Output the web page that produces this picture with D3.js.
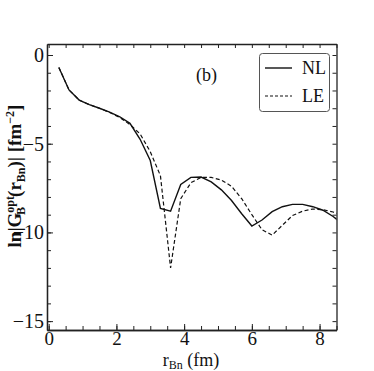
<!DOCTYPE html>
<html>
<head>
<meta charset="utf-8">
<script src="https://cdn.jsdelivr.net/npm/d3@7"></script>
<style>
  body { margin: 0; background: #fff; }
</style>
</head>
<body>
<div id="container"></div>
<script>
// r_Bn grid (fm)
var rBn = [0.3, 0.6, 0.9, 1.2, 1.5, 1.8, 2.1, 2.4, 2.7, 3.0, 3.3, 3.6, 3.9, 4.2, 4.5,
           4.8, 5.1, 5.4, 5.7, 6.0, 6.3, 6.6, 6.9, 7.2, 7.5, 7.8, 8.1, 8.4, 8.7];
var nlValues = [-0.7, -1.97, -2.54, -2.8, -3.0, -3.22, -3.48, -3.85, -4.75, -5.95, -8.65, -8.8, -7.3,
                -6.9, -6.88, -7.15, -7.6, -8.2, -8.95, -9.64, -9.3, -8.83, -8.55, -8.42, -8.42,
                -8.55, -8.75, -9.1, -9.55];
var leValues = [-0.7, -1.97, -2.54, -2.8, -3.0, -3.24, -3.52, -3.92, -4.45, -5.45, -6.8, -12.0, -8.1,
                -7.2, -6.9, -6.9, -7.05, -7.4, -8.1, -9.0, -9.85, -10.15, -9.6, -9.05, -8.8,
                -8.68, -8.72, -8.85, -9.05];
var xTicks = [0, 2, 4, 6, 8];
var yTicks = [0, -5, -10, -15];
var seriesNames = ["NL", "LE"];

var serif = "'Liberation Serif', 'DejaVu Serif', serif";
var W = 374, H = 371;
var m = {left: 47, right: 37.5, top: 44, bottom: 41};

var svg = d3.select("#container").append("svg")
  .attr("width", W).attr("height", H)
  .attr("font-family", serif);

var x = d3.scaleLinear().domain([-0.05, 8.5]).range([m.left, W - m.right]);
var y = d3.scaleLinear().domain([-15.5, 0.62]).range([H - m.bottom, m.top]);

svg.append("defs").append("clipPath").attr("id", "clip")
  .append("rect")
  .attr("x", m.left).attr("y", m.top)
  .attr("width", W - m.left - m.right).attr("height", H - m.top - m.bottom);

// axes with inward ticks on all four sides
var xMinor = d3.range(0, 8.51, 0.5);
var yMinor = d3.range(-15, 0.01, 1);

function styleAxis(g) {
  g.attr("font-family", serif);
  g.select(".domain").attr("stroke", "#222").attr("stroke-width", 1.3);
  g.selectAll(".tick line").attr("stroke", "#222").attr("stroke-width", 1);
}

svg.append("g").attr("transform", "translate(0," + (H - m.bottom) + ")")
  .call(d3.axisBottom(x).tickValues(xMinor).tickSize(-4).tickSizeOuter(0).tickFormat(""))
  .call(styleAxis);
var xb = svg.append("g").attr("transform", "translate(0," + (H - m.bottom) + ")")
  .call(d3.axisBottom(x).tickValues(xTicks).tickSize(-6).tickSizeOuter(0).tickPadding(1).tickFormat(d3.format("d")))
  .call(styleAxis);
xb.selectAll("text").attr("font-size", 19).attr("fill", "#111");

svg.append("g").attr("transform", "translate(0," + m.top + ")")
  .call(d3.axisTop(x).tickValues(xMinor).tickSize(-4).tickSizeOuter(0).tickFormat(""))
  .call(styleAxis);

svg.append("g").attr("transform", "translate(" + m.left + ",0)")
  .call(d3.axisLeft(y).tickValues(yMinor).tickSize(-4).tickSizeOuter(0).tickFormat(""))
  .call(styleAxis);
var yl = svg.append("g").attr("transform", "translate(" + m.left + ",0)")
  .call(d3.axisLeft(y).tickValues(yTicks).tickSize(-6).tickSizeOuter(0).tickPadding(3)
    .tickFormat(function(d) { return d < 0 ? "\u2212" + Math.abs(d) : d; }))
  .call(styleAxis);
yl.selectAll("text").attr("font-size", 20).attr("fill", "#111");

svg.append("g").attr("transform", "translate(" + (W - m.right) + ",0)")
  .call(d3.axisRight(y).tickValues(yMinor).tickSize(-4).tickSizeOuter(0).tickFormat(""))
  .call(styleAxis);

// curves
var line = d3.line()
  .x(function(d) { return x(d[0]); })
  .y(function(d) { return y(d[1]); });

var plot = svg.append("g").attr("clip-path", "url(#clip)");
plot.append("path")
  .datum(d3.zip(rBn, nlValues))
  .attr("fill", "none").attr("stroke", "#111").attr("stroke-width", 1.4)
  .attr("d", line);
plot.append("path")
  .datum(d3.zip(rBn, leValues))
  .attr("fill", "none").attr("stroke", "#111").attr("stroke-width", 1.2)
  .attr("stroke-dasharray", "4,2.5")
  .attr("d", line);

// panel label
svg.append("text").attr("x", 196).attr("y", 81)
  .attr("font-size", 18).attr("fill", "#111").text("(b)");

// legend
var lg = svg.append("g");
lg.append("rect").attr("x", 259.5).attr("y", 53.5).attr("width", 70).attr("height", 58)
  .attr("rx", 3).attr("fill", "#fff").attr("stroke", "#555").attr("stroke-width", 1);
seriesNames.forEach(function(name, i) {
  var yy = 68 + i * 28;
  lg.append("line").attr("x1", 265).attr("x2", 292).attr("y1", yy).attr("y2", yy)
    .attr("stroke", "#111").attr("stroke-width", i === 0 ? 1.4 : 1.2)
    .attr("stroke-dasharray", i === 0 ? null : "3,2");
  lg.append("text").attr("x", 302).attr("y", yy + 6).attr("font-size", 18)
    .attr("fill", "#111").text(name);
});

// axis titles
var xt = svg.append("text").attr("x", 191).attr("y", 366).attr("text-anchor", "middle")
  .attr("font-size", 18).attr("fill", "#111");
xt.append("tspan").text("r");
xt.append("tspan").attr("font-size", 12).attr("dy", 3).text("Bn");
xt.append("tspan").attr("dy", -3).text(" (fm)");

var yt = svg.append("text").attr("transform", "translate(21,176) rotate(-90)")
  .attr("text-anchor", "middle").attr("font-size", 19).attr("font-weight", "bold").attr("fill", "#111");
yt.append("tspan").text("ln|G");
yt.append("tspan").attr("font-size", 12).attr("dy", -7).text("opt");
yt.append("tspan").attr("font-size", 12).attr("dx", -19).attr("dy", 11).text("B");
yt.append("tspan").attr("dx", 10).attr("dy", -4).text("(r");
yt.append("tspan").attr("font-size", 12).attr("dy", 4).text("Bn");
yt.append("tspan").attr("dy", -4).text(")| [fm");
yt.append("tspan").attr("font-size", 12).attr("dy", -7).text("\u22122");
yt.append("tspan").attr("dy", 7).text("]");
</script>
</body>
</html>
